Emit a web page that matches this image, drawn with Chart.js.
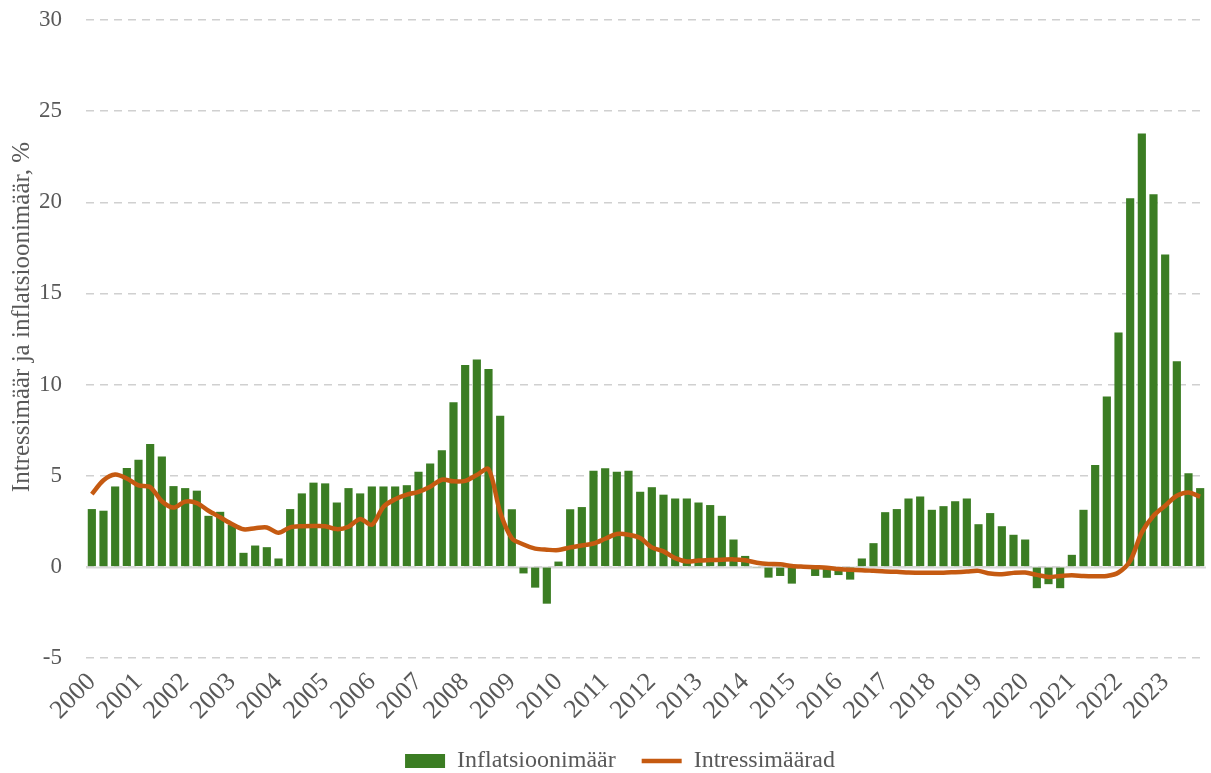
<!DOCTYPE html>
<html lang="et">
<head>
<meta charset="utf-8">
<title>Intressimäär ja inflatsioonimäär</title>
<script src="https://cdn.jsdelivr.net/npm/chart.js@4/dist/chart.umd.min.js"></script>
<style>
  html, body { margin: 0; padding: 0; background: #ffffff; }
  #wrap { width: 1211px; height: 773px; position: relative; }
</style>
</head>
<body>
<div id="wrap"><canvas id="chart"></canvas></div>
<script>
// Aastad (üks silt iga aasta esimese kvartali juures)
const years = ['2000','2001','2002','2003','2004','2005','2006','2007','2008','2009','2010','2011',
               '2012','2013','2014','2015','2016','2017','2018','2019','2020','2021','2022','2023'];

// Kvartalid: 2000 I kv ... 2023 IV kv
const quarters = years.flatMap(y => [y + ' I', y + ' II', y + ' III', y + ' IV']);

// Inflatsioonimäär, % (kvartaalne)
const inflation = [
  3.17, 3.08, 4.41, 5.42,
  5.88, 6.74, 6.06, 4.43,
  4.32, 4.18, 2.80, 3.02,
  2.30, 0.77, 1.17, 1.08,
  0.46, 3.17, 4.03, 4.62,
  4.58, 3.53, 4.32, 4.03,
  4.41, 4.41, 4.41, 4.48,
  5.22, 5.67, 6.40, 9.03,
  11.07, 11.37, 10.85, 8.29,
  3.16, -0.36, -1.14, -2.02,
  0.29, 3.16, 3.28, 5.27,
  5.41, 5.22, 5.27, 4.12,
  4.37, 3.96, 3.75, 3.75,
  3.53, 3.39, 2.80, 1.50,
  0.60, -0.05, -0.59, -0.50,
  -0.92, -0.04, -0.50, -0.60,
  -0.45, -0.70, 0.46, 1.30,
  3.00, 3.17, 3.75, 3.86,
  3.13, 3.33, 3.60, 3.75,
  2.34, 2.95, 2.23, 1.76,
  1.50, -1.17, -0.95, -1.17,
  0.66, 3.13, 5.59, 9.34,
  12.86, 20.22, 23.77, 20.44,
  17.14, 11.28, 5.13, 4.32
];

// Intressimäärad, %
const interest = [
  3.99, 4.75, 5.07, 4.85,
  4.47, 4.38, 3.60, 3.25,
  3.58, 3.50, 3.08, 2.72,
  2.35, 2.06, 2.12, 2.16,
  1.87, 2.17, 2.23, 2.24,
  2.23, 2.07, 2.20, 2.63,
  2.31, 3.30, 3.71, 3.96,
  4.12, 4.40, 4.78, 4.69,
  4.72, 5.04, 5.36, 3.00,
  1.57, 1.23, 1.00, 0.94,
  0.92, 1.07, 1.17, 1.28,
  1.54, 1.80, 1.76, 1.58,
  1.07, 0.85, 0.48, 0.30,
  0.35, 0.37, 0.39, 0.41,
  0.36, 0.23, 0.16, 0.14,
  0.05, 0.01, -0.02, -0.05,
  -0.12, -0.16, -0.18, -0.22,
  -0.26, -0.27, -0.31, -0.32,
  -0.32, -0.32, -0.29, -0.26,
  -0.22, -0.37, -0.40, -0.33,
  -0.31, -0.44, -0.55, -0.50,
  -0.46, -0.50, -0.51, -0.50,
  -0.31, 0.33, 1.89, 2.80,
  3.35, 3.90, 4.08, 3.85
];

// y-telje jaotised
const yTicks = [-5, 0, 5, 10, 15, 20, 25, 30];
const yTitle = 'Intressimäär ja inflatsioonimäär, %';

const FONT = "'Liberation Serif', 'Times New Roman', serif";
const TEXT = '#595959';
const GREEN = '#3b7d23';
const ORANGE = '#c55a11';

// Nulljoon (horisontaaltelg) pidevjoonena
const zeroLine = {
  id: 'zeroLine',
  beforeDatasetsDraw(chart) {
    const { ctx, chartArea, scales } = chart;
    const y = Math.round(scales.y.getPixelForValue(0)) + 0.5;
    ctx.save();
    ctx.strokeStyle = '#d9d9d9';
    ctx.lineWidth = 2;
    ctx.beginPath();
    ctx.moveTo(chartArea.left, y);
    ctx.lineTo(chartArea.right, y);
    ctx.stroke();
    ctx.restore();
  }
};

// Y-telje pealkiri, veidi üles nihutatud
const axisTitle = {
  id: 'axisTitle',
  afterDraw(chart) {
    const { ctx, chartArea } = chart;
    const cy = (chartArea.top + chartArea.bottom) / 2 - 22;
    ctx.save();
    ctx.translate(22, cy);
    ctx.rotate(-Math.PI / 2);
    ctx.fillStyle = TEXT;
    ctx.font = "25px 'Liberation Serif', 'Times New Roman', serif";
    ctx.textAlign = 'center';
    ctx.textBaseline = 'middle';
    ctx.fillText(yTitle, 0, 0);
    ctx.restore();
  }
};

// Legend veidi paremale
const legendShift = {
  id: 'legendShift',
  afterLayout(chart) {
    if (chart.legend) {
      chart.legend.left += 17;
      chart.legend.right += 17;
    }
  }
};

new Chart(document.getElementById('chart'), {
  data: {
    labels: quarters,
    datasets: [
      {
        type: 'line',
        label: 'Intressimäärad',
        data: interest,
        borderColor: ORANGE,
        backgroundColor: ORANGE,
        borderWidth: 4.5,
        pointRadius: 0,
        pointStyle: 'line',
        tension: 0.3,
        order: 0
      },
      {
        type: 'bar',
        label: 'Inflatsioonimäär',
        data: inflation,
        backgroundColor: GREEN,
        borderWidth: 0,
        pointStyle: 'rect',
        categoryPercentage: 1.0,
        barPercentage: 0.7,
        order: 1
      }
    ]
  },
  options: {
    responsive: true,
    maintainAspectRatio: false,
    animation: false,
    layout: { padding: { top: 20, right: 5, left: 0, bottom: -10 } },
    plugins: {
      tooltip: { enabled: false },
      legend: {
        position: 'bottom',
        reverse: true,
        labels: {
          usePointStyle: true,
          pointStyleWidth: 40,
          boxHeight: 14,
          color: TEXT,
          font: { family: FONT, size: 24 },
          padding: 26
        }
      }
    },
    scales: {
      x: {
        grid: { display: false },
        border: { display: false },
        afterFit: (scale) => {
          scale.paddingLeft = 0;
          scale.paddingRight = 0;
          scale.height = 65;
        },
        ticks: {
          autoSkip: false,
          minRotation: 45,
          maxRotation: 45,
          color: TEXT,
          font: { family: FONT, size: 26 },
          padding: 1,
          callback: (v, i) => (i % 4 === 0 ? years[i / 4] : '')
        }
      },
      y: {
        min: -5,
        max: 30,
        afterBuildTicks: (axis) => { axis.ticks = yTicks.map(v => ({ value: v })); },
        afterFit: (scale) => {
          scale.paddingTop = 0;
          scale.paddingBottom = 0;
          scale.width = 86;
        },
        grid: { color: '#d0d0d0', lineWidth: 1.5, drawTicks: false },
        border: { display: false, dash: [8, 6] },
        ticks: {
          color: TEXT,
          font: { family: FONT, size: 23 },
          padding: 24
        },
        title: { display: false }
      }
    }
  },
  plugins: [zeroLine, axisTitle, legendShift]
});
</script>
</body>
</html>
